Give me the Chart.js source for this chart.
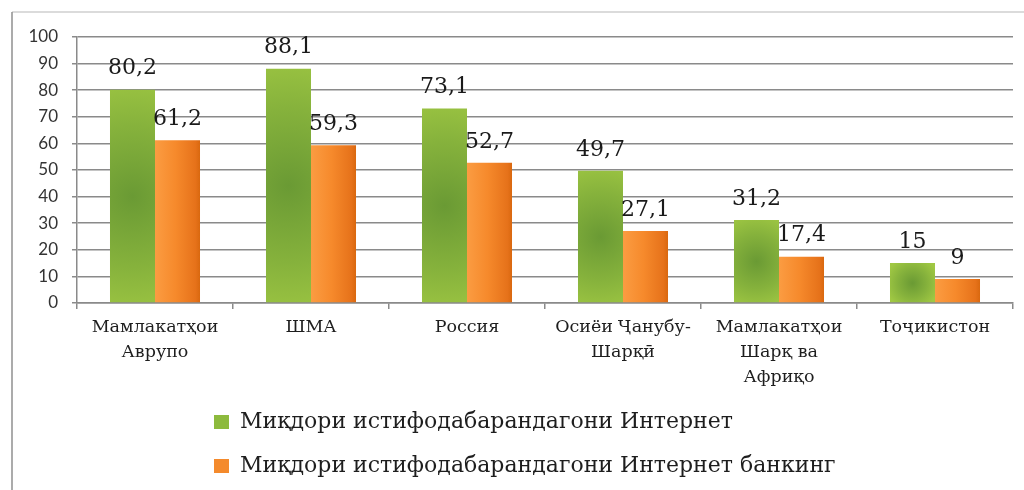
<!DOCTYPE html>
<html>
<head>
<meta charset="utf-8">
<title>Интернет ва Интернет банкинг</title>
<script src="https://cdn.jsdelivr.net/npm/chart.js@4/dist/chart.umd.min.js"></script>
<style>
  html, body { margin: 0; padding: 0; background: #fff; }
  #wrap { width: 1024px; height: 490px; }
</style>
</head>
<body>
<div id="wrap"><canvas id="usersChart" width="1024" height="490"></canvas></div>
<script>
const categories = [
  ["Мамлакатҳои", "Аврупо"],
  "ШМА",
  "Россия",
  ["Осиёи Ҷанубу-", "Шарқӣ"],
  ["Мамлакатҳои", "Шарқ ва", "Африқо"],
  "Тоҷикистон"
];
const internetUsers = [80.2, 88.1, 73.1, 49.7, 31.2, 15];
const bankingUsers = [61.2, 59.3, 52.7, 27.1, 17.4, 9];
const seriesNames = [
  "Миқдори истифодабарандагони Интернет",
  "Миқдори истифодабарандагони Интернет банкинг"
];
const seriesSwatch = ["#8dba3d", "#f48a2c"];
const yTicks = [0, 10, 20, 30, 40, 50, 60, 70, 80, 90, 100];

const CAT_PCT = 0.577;
const serif = "'DejaVu Serif', 'Liberation Serif', serif";
const gridGrey = "#8a8a8a";

// where a bar sits, taken from the scales (options resolve before element coords exist)
function barBox(chart, dsIndex, i, value) {
  const xs = chart.scales.x, ys = chart.scales.y;
  if (!xs || !ys || xs.width === undefined) return null;
  const w = (xs.width / categories.length) * CAT_PCT / 2;
  const left = xs.getPixelForValue(i) - w + dsIndex * w;
  return { left, right: left + w, top: ys.getPixelForValue(value), bottom: ys.getPixelForValue(0) };
}

function greenFill(ctx) {
  const b = barBox(ctx.chart, 0, ctx.dataIndex, internetUsers[ctx.dataIndex]);
  if (!b) return seriesSwatch[0];
  const c = ctx.chart.ctx;
  const cx = (b.left + b.right) / 2, cy = (b.top + b.bottom) / 2;
  const r = Math.max(b.bottom - b.top, b.right - b.left) * 0.6;
  const g = c.createRadialGradient(cx, cy, 0, cx, cy, r);
  g.addColorStop(0, "#6a9a34");
  g.addColorStop(0.55, "#86b23c");
  g.addColorStop(1, "#a0c843");
  return g;
}

function orangeFill(ctx) {
  const b = barBox(ctx.chart, 1, ctx.dataIndex, bankingUsers[ctx.dataIndex]);
  if (!b) return seriesSwatch[1];
  const g = ctx.chart.ctx.createLinearGradient(b.left, 0, b.right, 0);
  g.addColorStop(0, "#fb9c42");
  g.addColorStop(0.45, "#f68a2c");
  g.addColorStop(0.9, "#e6721a");
  g.addColorStop(1, "#d9680f");
  return g;
}

// thin frame round the chart (top and left edges only)
const framePlugin = {
  id: "frame",
  beforeDraw(chart) {
    const c = chart.ctx;
    c.save();
    c.lineWidth = 1.5;
    c.strokeStyle = "#cfcfcf";
    c.beginPath();
    c.moveTo(12, 12);
    c.lineTo(chart.width, 12);
    c.stroke();
    c.strokeStyle = "#8f8f8f";
    c.beginPath();
    c.moveTo(12, 12);
    c.lineTo(12, chart.height);
    c.stroke();
    c.restore();
  }
};

// the two legend rows start at the same x
const legendShift = {
  id: "legendShift",
  afterLayout(chart) {
    if (chart.legend) chart.legend.left = 192;
  }
};

// value above each bar, decimal comma
const valueLabels = {
  id: "valueLabels",
  afterDatasetsDraw(chart) {
    const c = chart.ctx;
    c.save();
    c.font = "22px " + serif;
    c.fillStyle = "#1a1a1a";
    c.textAlign = "center";
    c.textBaseline = "middle";
    chart.data.datasets.forEach((ds, di) => {
      chart.getDatasetMeta(di).data.forEach((bar, i) => {
        const txt = String(ds.data[i]).replace(".", ",");
        c.fillText(txt, bar.x, bar.y - 21);
      });
    });
    c.restore();
  }
};

new Chart(document.getElementById("usersChart"), {
  type: "bar",
  data: {
    labels: categories,
    datasets: [
      {
        label: seriesNames[0],
        data: internetUsers,
        backgroundColor: greenFill,
        borderWidth: 0
      },
      {
        label: seriesNames[1],
        data: bankingUsers,
        backgroundColor: orangeFill,
        borderWidth: 0
      }
    ]
  },
  options: {
    responsive: false,
    animation: false,
    devicePixelRatio: 1,
    layout: { padding: { left: 0, right: 11, top: 37, bottom: 3 } },
    datasets: {
      bar: { categoryPercentage: CAT_PCT, barPercentage: 1 }
    },
    scales: {
      x: {
        grid: {
          offset: true,
          drawOnChartArea: false,
          drawTicks: true,
          tickLength: 6,
          color: gridGrey,
          lineWidth: 1.5
        },
        border: { display: true, color: gridGrey, width: 1.5 },
        ticks: {
          maxRotation: 0,
          autoSkip: false,
          padding: 6,
          color: "#1e1e1e",
          font: { family: serif, size: 17.5, lineHeight: 1.43 }
        },
        afterFit(scale) { scale.height = 86; }
      },
      y: {
        min: 0,
        max: 100,
        afterBuildTicks(scale) { scale.ticks = yTicks.map(v => ({ value: v })); },
        grid: { color: gridGrey, lineWidth: 1.5, tickLength: 5 },
        border: { display: true, color: gridGrey, width: 1.5 },
        ticks: {
          padding: 14,
          color: "#333",
          font: { family: "Lato, 'Liberation Sans', sans-serif", size: 17 }
        },
        afterFit(scale) { scale.width = 77; }
      }
    },
    plugins: {
      legend: {
        position: "bottom",
        align: "start",
        labels: {
          boxWidth: 15,
          boxHeight: 14,
          padding: 22,
          color: "#1e1e1e",
          font: { family: serif, size: 22 },
          generateLabels(chart) {
            return Chart.defaults.plugins.legend.labels.generateLabels(chart)
              .map((item, i) => Object.assign(item, { fillStyle: seriesSwatch[i], lineWidth: 0 }));
          }
        }
      },
      tooltip: { enabled: false }
    }
  },
  plugins: [framePlugin, legendShift, valueLabels]
});
</script>
</body>
</html>
